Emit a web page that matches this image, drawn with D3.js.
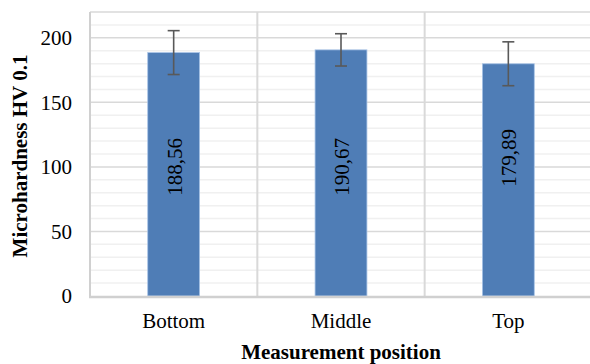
<!DOCTYPE html>
<html>
<head>
<meta charset="utf-8">
<script src="https://cdn.jsdelivr.net/npm/d3@7"></script>
<style>
html,body{margin:0;padding:0;background:#fff;}
svg{display:block;}
</style>
</head>
<body>
<svg id="chart" width="590" height="364"></svg>
<script>
const categories = ["Bottom", "Middle", "Top"];
const values = [188.56, 190.67, 179.89];
const errors = [17, 12.5, 17];
const valueLabels = ["188,56", "190,67", "179,89"];
const labelAt = [100, 100, 107];
const yTicks = [0, 50, 100, 150, 200];
const yMinorTicks = d3.range(0, 221, 10);

const FONT = "Liberation Serif";
const svg = d3.select("#chart");
const pLeft = 90, pRight = 592, pTop = 12, pBottom = 296;

const x = d3.scaleBand().domain(categories).range([pLeft, pRight]).paddingInner(0).paddingOuter(0);
const y = d3.scaleLinear().domain([0, 220]).range([pBottom, pTop]);
const barW = x.bandwidth() * 0.31;

// minor gridlines
svg.append("g").selectAll("line").data(yMinorTicks.filter(d => d % 50 !== 0 && d < 220))
  .join("line")
  .attr("x1", pLeft).attr("x2", pRight)
  .attr("y1", d => y(d)).attr("y2", d => y(d))
  .attr("stroke", "#f0f0f0").attr("stroke-width", 1.5);

// major gridlines
svg.append("g").selectAll("line").data(yTicks.filter(d => d > 0).concat([220]))
  .join("line")
  .attr("x1", pLeft).attr("x2", pRight)
  .attr("y1", d => y(d)).attr("y2", d => y(d))
  .attr("stroke", "#d9d9d9").attr("stroke-width", 1.5);

// vertical category boundaries
svg.append("g").selectAll("line").data(categories.slice(1))
  .join("line")
  .attr("x1", d => x(d)).attr("x2", d => x(d))
  .attr("y1", pTop).attr("y2", pBottom)
  .attr("stroke", "#d9d9d9").attr("stroke-width", 2);

// left axis line
svg.append("line").attr("x1", pLeft).attr("x2", pLeft).attr("y1", pTop).attr("y2", pBottom)
  .attr("stroke", "#d0d0d0").attr("stroke-width", 2);

// bars
svg.append("g").selectAll("rect").data(values)
  .join("rect")
  .attr("x", (d, i) => x(categories[i]) + x.bandwidth() / 2 - barW / 2)
  .attr("width", barW)
  .attr("y", d => y(d))
  .attr("height", d => y(0) - y(d))
  .attr("fill", "#4f7db6")
  .attr("stroke", "#a8c3e6").attr("stroke-width", 0.8);

// bottom axis line
svg.append("line").attr("x1", pLeft - 1).attr("x2", pRight).attr("y1", pBottom + 1).attr("y2", pBottom + 1)
  .attr("stroke", "#d0d0d0").attr("stroke-width", 2.5);

// error bars
const eb = svg.append("g").attr("stroke", "#595959").attr("stroke-width", 1.6).attr("fill", "none");
values.forEach((v, i) => {
  const cx = x(categories[i]) + x.bandwidth() / 2;
  const y1 = y(v + errors[i]), y2 = y(v - errors[i]);
  eb.append("line").attr("x1", cx).attr("x2", cx).attr("y1", y1).attr("y2", y2);
  eb.append("line").attr("x1", cx - 6).attr("x2", cx + 6).attr("y1", y1).attr("y2", y1);
  eb.append("line").attr("x1", cx - 6).attr("x2", cx + 6).attr("y1", y2).attr("y2", y2);
});

// value labels
svg.append("g").selectAll("text").data(valueLabels)
  .join("text")
  .attr("transform", (d, i) => `translate(${x(categories[i]) + x.bandwidth() / 2 + 1},${y(labelAt[i])}) rotate(-90)`)
  .attr("text-anchor", "middle")
  .attr("dy", "0.33em")
  .style("font-family", FONT).style("font-size", "21px")
  .attr("fill", "#000")
  .text(d => d);

// y tick labels
const yAxis = d3.axisLeft(y).tickValues(yTicks).tickSize(0).tickPadding(18);
const ya = svg.append("g").attr("transform", `translate(${pLeft},0)`).call(yAxis);
ya.select(".domain").remove();
ya.selectAll("text").style("font-family", FONT).style("font-size", "21px").attr("fill", "#000").attr("dy", "0.33em");

// x tick labels
const xAxis = d3.axisBottom(x).tickSize(0).tickPadding(0);
const xa = svg.append("g").attr("transform", `translate(0,${pBottom})`).call(xAxis);
xa.select(".domain").remove();
xa.selectAll("text").style("font-family", FONT).style("font-size", "21px").attr("fill", "#000")
  .attr("dy", null).attr("y", 32);

// axis titles
svg.append("text").attr("x", 341).attr("y", 359).attr("text-anchor", "middle")
  .style("font-family", FONT).style("font-size", "21px").style("font-weight", "bold").text("Measurement position");
svg.append("text").attr("transform", "translate(27,156) rotate(-90)").attr("text-anchor", "middle")
  .style("font-family", FONT).style("font-size", "21px").style("font-weight", "bold").text("Microhardness HV 0.1");
</script>
</body>
</html>
